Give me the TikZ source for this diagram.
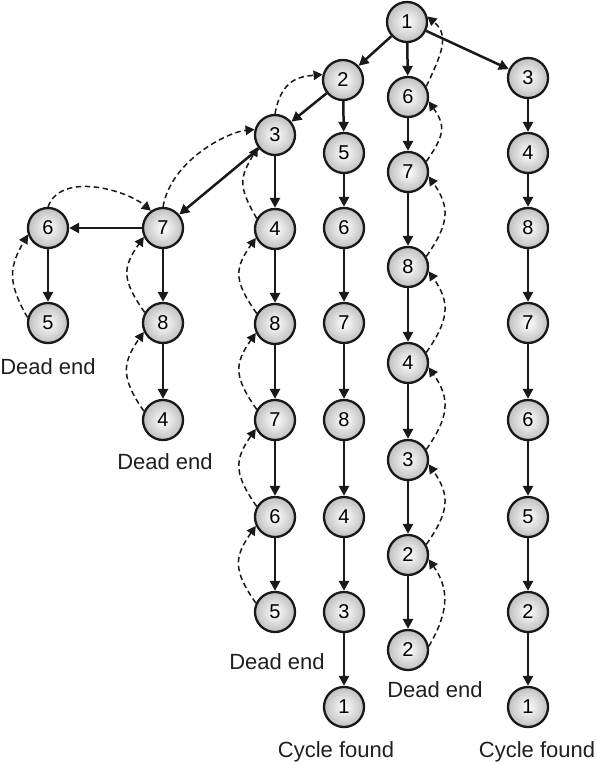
\documentclass[tikz,border=0pt]{standalone}
\usepackage{fontspec}
\setmainfont{Liberation Sans}
\usetikzlibrary{arrows.meta}
\begin{document}
\begin{tikzpicture}[x=1pt,y=-1pt,
  vtx/.style={circle,draw=black!90,line width=2.3pt,minimum size=40pt,inner sep=0pt,
    shading=radial,inner color=white,outer color=black!25,font=\fontsize{20}{20}\selectfont},
  lbl/.style={font=\fontsize{22}{24}\selectfont,inner sep=0pt,text=black!88},
  fwd/.style={line width=2.5pt,draw=black!90,-{Triangle[length=10pt,width=10pt]}},
  back/.style={line width=1.5pt,draw=black!90,dash pattern=on 5.5pt off 3.5pt,-{Triangle[length=9pt,width=9.5pt]}}]
\useasboundingbox (0,0) rectangle (597,765);
% column A
\node[vtx] (a6) at (48,228) {6};
\node[vtx] (a5) at (48,323) {5};
% column B
\node[vtx] (b7) at (163,228) {7};
\node[vtx] (b8) at (163,323) {8};
\node[vtx] (b4) at (163,420) {4};
% column C
\node[vtx] (c3) at (275,135) {3};
\node[vtx] (c4) at (275,229) {4};
\node[vtx] (c8) at (275,324) {8};
\node[vtx] (c7) at (275,420) {7};
\node[vtx] (c6) at (275,517) {6};
\node[vtx] (c5) at (275,612) {5};
% column D
\node[vtx] (d2) at (343,80) {2};
\node[vtx] (d5) at (344,153) {5};
\node[vtx] (d6) at (344,228) {6};
\node[vtx] (d7) at (344,323) {7};
\node[vtx] (d8) at (344,420) {8};
\node[vtx] (d4) at (344,517) {4};
\node[vtx] (d3) at (344,612) {3};
\node[vtx] (d1) at (344,707) {1};
% column E
\node[vtx] (e1) at (407,22) {1};
\node[vtx] (e6) at (408,97) {6};
\node[vtx] (e7) at (408,172) {7};
\node[vtx] (e8) at (408,267) {8};
\node[vtx] (e4) at (408,363) {4};
\node[vtx] (e3) at (408,460) {3};
\node[vtx] (e2) at (408,555) {2};
\node[vtx] (e2b) at (408,650) {2};
% column F
\node[vtx] (f3) at (528,78) {3};
\node[vtx] (f4) at (528,153) {4};
\node[vtx] (f8) at (528,228) {8};
\node[vtx] (f7) at (528,323) {7};
\node[vtx] (f6) at (528,420) {6};
\node[vtx] (f5) at (528,517) {5};
\node[vtx] (f2) at (528,612) {2};
\node[vtx] (f1) at (528,707) {1};
% labels
\node[lbl] (la) at (48,367) {Dead end};
\node[lbl] (lb) at (165,462) {Dead end};
\node[lbl] (lc) at (277,662) {Dead end};
\node[lbl] (le) at (435,690) {Dead end};
\node[lbl] (ld) at (336,752) {Cycle found};
\node[lbl] (lf) at (537,752) {Cycle found};
% forward edges
\draw[fwd] (e1) -- (d2);
\draw[fwd] (e1) -- (e6);
\draw[fwd] (e1) -- (f3);
\draw[fwd] (d2) -- (c3);
\draw[fwd] (d2) -- (d5);
\draw[fwd] (c3) -- (b7);
\draw[fwd] (c3) -- (c4);
\draw[fwd] (b7) -- (a6);
\draw[fwd] (b7) -- (b8);
\draw[fwd] (a6) -- (a5);
\draw[fwd] (b8) -- (b4);
\draw[fwd] (c4) -- (c8);
\draw[fwd] (c8) -- (c7);
\draw[fwd] (c7) -- (c6);
\draw[fwd] (c6) -- (c5);
\draw[fwd] (d5) -- (d6);
\draw[fwd] (d6) -- (d7);
\draw[fwd] (d7) -- (d8);
\draw[fwd] (d8) -- (d4);
\draw[fwd] (d4) -- (d3);
\draw[fwd] (d3) -- (d1);
\draw[fwd] (e6) -- (e7);
\draw[fwd] (e7) -- (e8);
\draw[fwd] (e8) -- (e4);
\draw[fwd] (e4) -- (e3);
\draw[fwd] (e3) -- (e2);
\draw[fwd] (e2) -- (e2b);
\draw[fwd] (f3) -- (f4);
\draw[fwd] (f4) -- (f8);
\draw[fwd] (f8) -- (f7);
\draw[fwd] (f7) -- (f6);
\draw[fwd] (f6) -- (f5);
\draw[fwd] (f5) -- (f2);
\draw[fwd] (f2) -- (f1);
% backtracking, left side arcs
\draw[back] (a5.165) .. controls +(120:40pt) and +(240:38pt) .. (a6.198);
\draw[back] (b4.155) .. controls +(125:40pt) and +(235:38pt) .. (b8.205);
\draw[back] (b8.150) .. controls +(125:40pt) and +(235:38pt) .. (b7.205);
\draw[back] (c5.155) .. controls +(125:40pt) and +(235:38pt) .. (c6.205);
\draw[back] (c6.150) .. controls +(125:40pt) and +(235:38pt) .. (c7.205);
\draw[back] (c7.150) .. controls +(125:40pt) and +(235:38pt) .. (c8.205);
\draw[back] (c8.150) .. controls +(125:40pt) and +(235:38pt) .. (c4.205);
\draw[back] (c4.150) .. controls +(120:38pt) and +(240:36pt) .. (c3.215);
% top arcs
\draw[back] (a6.north) .. controls +(70:38pt) and +(140:32pt) .. (b7.125);
\draw[back] (b7.north) .. controls +(80:48pt) and +(185:26pt) .. (c3.165);
\draw[back] (c3.north) .. controls +(80:36pt) and +(185:22pt) .. (d2.165);
% right side arcs
\draw[back] (e2b.10) .. controls +(60:38pt) and +(-55:38pt) .. (e2.-12);
\draw[back] (e2.30) .. controls +(55:40pt) and +(-55:38pt) .. (e3.-12);
\draw[back] (e3.30) .. controls +(55:40pt) and +(-55:38pt) .. (e4.-12);
\draw[back] (e4.30) .. controls +(55:40pt) and +(-55:38pt) .. (e8.-12);
\draw[back] (e8.30) .. controls +(55:40pt) and +(-55:38pt) .. (e7.-12);
\draw[back] (e7.30) .. controls +(55:32pt) and +(-55:30pt) .. (e6.-12);
\draw[back] (e6.30) .. controls +(65:34pt) and +(-40:30pt) .. (e1.15);
\end{tikzpicture}
\end{document}
